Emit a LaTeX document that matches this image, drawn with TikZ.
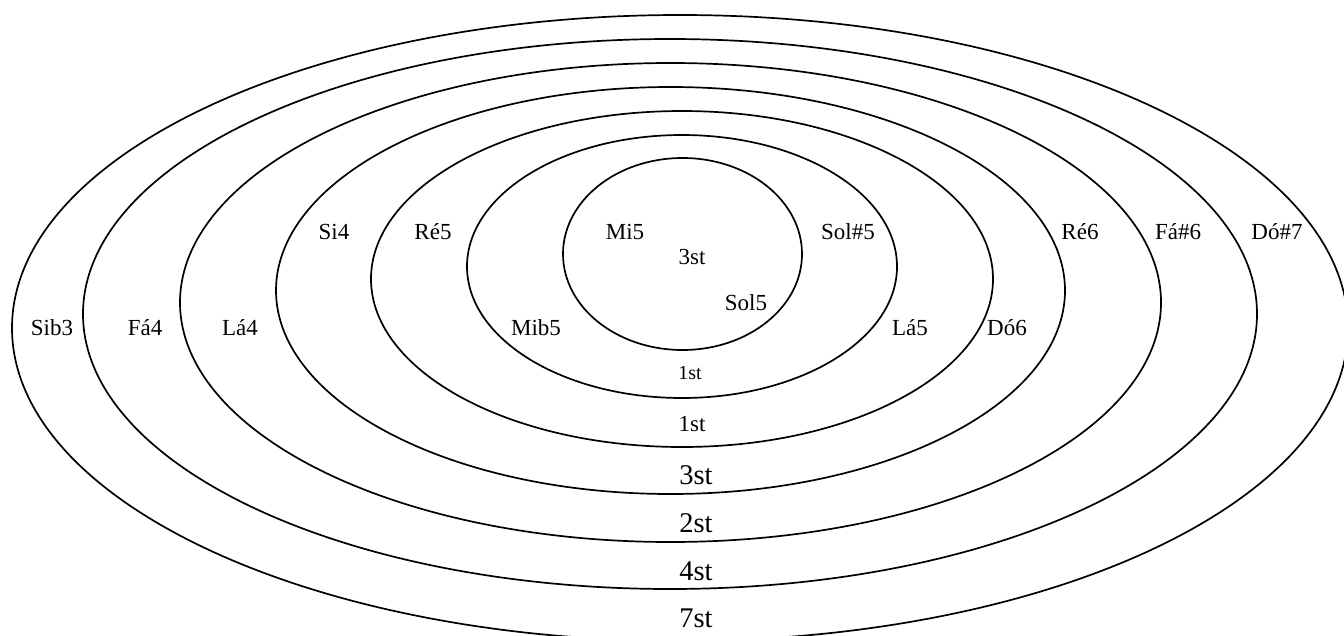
\documentclass[tikz,border=0pt]{standalone}
\usepackage{fontspec}
\setmainfont{Liberation Serif}
\begin{document}
\begin{tikzpicture}[x=1pt,y=-1pt,
  ring/.style={line width=1.7pt, draw=black},
  lbl/.style={font=\fontsize{23}{25}\selectfont, inner sep=0pt, anchor=base},
  lblsmall/.style={font=\fontsize{20}{22}\selectfont, inner sep=0pt, anchor=base},
  lblbig/.style={font=\fontsize{28.5}{30}\selectfont, inner sep=0pt, anchor=base}]
\useasboundingbox (0,0) rectangle (1344,635);
\clip (0,0) rectangle (1344,635);
% rings
\draw[ring] (682.5,254) ellipse [x radius=119.5, y radius=96];
\draw[ring] (682,266.5) ellipse [x radius=215, y radius=131.5];
\draw[ring] (682,279) ellipse [x radius=311, y radius=168];
\draw[ring] (670.5,290.5) ellipse [x radius=394.5, y radius=203.5];
\draw[ring] (670.5,302.5) ellipse [x radius=490.5, y radius=239.5];
\draw[ring] (670,314) ellipse [x radius=587, y radius=275];
\draw[ring] (680,328) ellipse [x radius=668, y radius=313];
% upper labels
\node[lbl] (mi5) at (625,239.5) {Mi5};
\node[lbl] (st3a) at (692,264) {3st};
\node[lbl] (sol5) at (746,310.5) {Sol5};
\node[lbl] (sols5) at (848,239.5) {Sol\#5};
\node[lbl] (si4) at (334,239.5) {Si4};
\node[lbl] (re5) at (433,239.5) {Ré5};
\node[lbl] (re6) at (1080,239.5) {Ré6};
\node[lbl] (fas6) at (1178,239.5) {Fá\#6};
\node[lbl] (dos7) at (1277,239.5) {Dó\#7};
% middle labels
\node[lbl] (sib3) at (52,335.5) {Sib3};
\node[lbl] (fa4) at (145,335.5) {Fá4};
\node[lbl] (la4) at (240,335.5) {Lá4};
\node[lbl] (mib5) at (536,335.5) {Mib5};
\node[lbl] (la5) at (910,335.5) {Lá5};
\node[lbl] (do6) at (1007,335.5) {Dó6};
% bottom labels
\node[lblsmall] (st1a) at (690,379.5) {1st};
\node[lbl] (st1b) at (692,431) {1st};
\node[lblbig] (st3b) at (696,484.5) {3st};
\node[lblbig] (st2) at (696,532.5) {2st};
\node[lblbig] (st4) at (696,580.5) {4st};
\node[lblbig] (st7) at (696,627.5) {7st};
\end{tikzpicture}
\end{document}
